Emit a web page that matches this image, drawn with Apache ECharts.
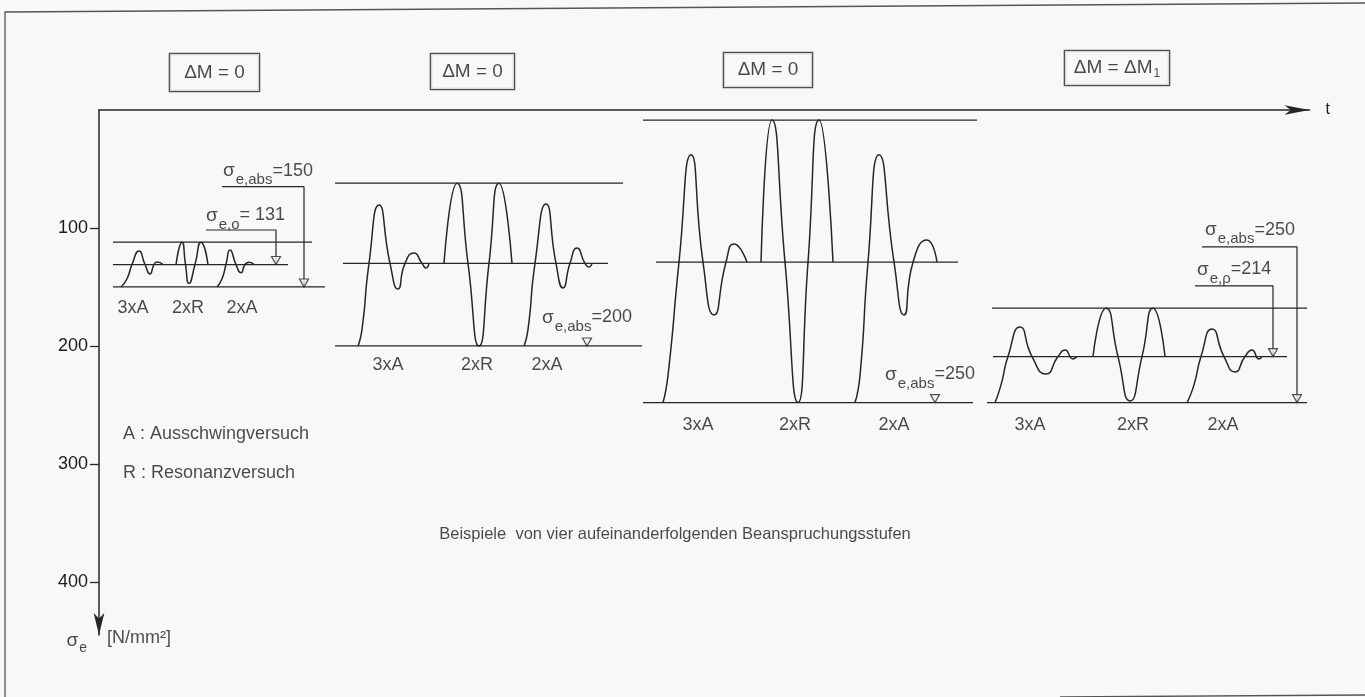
<!DOCTYPE html>
<html><head><meta charset="utf-8">
<script src="https://cdn.jsdelivr.net/npm/echarts@6/dist/echarts.min.js"></script>
<style>html,body{margin:0;padding:0;background:#f8f8f7}#c{width:1365px;height:697px}</style>
</head><body><div id="c"></div>
<script>
// ---------- data (t: time in arbitrary units, σ in N/mm²) ----------
const yTicks = [100, 200, 300, 400];
const yMax = 445;
const tMax = 121.05;

// waveforms [t, σe]
const g1_3xA = [[2.2,150],[2.8,143],[3.3,131],[4.0,119.5],[4.6,131],[5.1,139],[5.5,131],[5.8,128.8],[6.4,131]];
const g1_2xR = [[7.7,131],[8.3,112],[8.65,131],[9.0,147],[9.6,131],[10.2,112],[10.9,131]];
const g1_2xA = [[11.8,150],[12.3,143],[12.7,131],[13.1,118.6],[13.7,131],[14.2,138],[14.6,131],[15.0,129],[15.5,131]];

const g2_3xA = [[25.9,200],[26.3,186],[27.0,130],[28.0,80.5],[29.1,130],[29.9,151.7],[30.6,130],[31.5,121.2],[32.3,130],[32.7,133.9],[33.0,130]];
const g2_2xR = [[34.5,130],[35.8,62],[36.9,130],[38.0,200],[39.0,130],[40.0,62],[41.3,130]];
const g2_2xA = [[42.5,200],[42.9,186],[43.6,130],[44.7,79.7],[45.7,130],[46.4,150.8],[47.1,130],[47.8,116.9],[48.6,130],[49.0,133],[49.3,130]];

const g3_3xA = [[56.4,248],[56.9,225],[58.0,129],[59.2,38],[60.4,129],[61.5,173.7],[62.7,129],[63.5,113.6],[64.8,129]];
const g3_2xR = [[66.2,129],[67.3,8.5],[68.6,129],[69.9,248],[70.9,129],[72.0,8.5],[73.4,129]];
const g3_2xA = [[75.6,248],[76.1,225],[76.9,129],[78.0,38],[79.5,129],[80.5,173.7],[81.4,129],[82.8,110.2],[83.8,129]];

const g4_3xA = [[89.6,248],[90.2,233],[90.9,209],[92.1,184],[93.3,209],[94.7,223.7],[95.9,209],[96.6,203.4],[97.4,211],[97.8,209]];
const g4_2xR = [[99.4,209],[100.7,168],[101.9,209],[103.1,246.6],[104.3,209],[105.4,168],[106.6,209]];
const g4_2xA = [[108.8,248],[109.5,233],[110.2,209],[111.3,185.6],[112.5,209],[113.6,222],[114.6,209],[115.3,203.4],[116.0,211],[116.3,209]];

// horizontal level lines per group: [tStart, tEnd, σ] (upper, mean, σe,abs)
const g1Levels = [[1.4,21.3,112],[1.4,18.9,131],[1.4,22.6,150]];
const g2Levels = [[23.6,52.4,62],[24.4,50.9,130],[23.6,54.3,200]];
const g3Levels = [[54.4,87.8,8.5],[55.7,85.9,129],[54.4,87.4,248]];
const g4Levels = [[89.3,120.8,168],[89.4,118.8,209],[88.8,120.8,248]];

// leader lines to the markers [t, σ]
const leaderG1o   = [[10.7,101.7],[17.7,101.7],[17.7,131]];
const leaderG1abs = [[12.3,65],[20.5,65],[20.5,150]];
const leaderG4o   = [[109.6,149],[117.4,149],[117.4,209]];
const leaderG4abs = [[110.3,116],[119.8,116],[119.8,248]];

// ∇ markers [t, σ]
const markers = [[17.7,131],[20.5,150],[48.8,200],[83.6,248],[117.4,209],[119.8,248]];

// σ annotations: anchor [t, σ], subscript, value text
const sigmaAt  = [[12.4,49.2],[10.7,87.3],[44.3,173.7],[78.6,222],[110.6,99.2],[109.8,133]];
const sigmaSub = ['e,abs','e,o','e,abs','e,abs','e,abs','e,ρ'];
const sigmaVal = ['=150','= 131','=200','=250','=250','=214'];

// step labels
const stepText = ['3xA','2xR','2xA','3xA','2xR','2xA','3xA','2xR','2xA','3xA','2xR','2xA'];
const stepAt = [[3.4,167.8],[8.9,167.8],[14.3,167.8],[28.9,216],[37.8,216],[44.8,216],
                [59.9,267],[69.6,267],[79.5,267],[93.1,267],[103.4,267],[112.4,267]];

// panel titles
const titleMain = ['ΔM = 0','ΔM = 0','ΔM = 0','ΔM = ΔM'];
const titleSub  = ['','','','1'];
const titleAt   = [[11.55,-31.8],[37.35,-32.6],[66.9,-33.9],[101.8,-35.6]];

// legend / caption
const legendText = ['A : Ausschwingversuch','R : Resonanzversuch'];
const legendAt = [[2.4,274.6],[2.4,307.6]];
const captionText = 'Beispiele  von vier aufeinanderfolgenden Beanspruchungsstufen';
const captionAt = [57.6,360];
const yUnitAt = [[-1.2,447.5],[0.8,447.5]];

// ---------- style ----------
const F = '"Liberation Sans", Arial, sans-serif';
const INK = '#262626';
const TXT = '#1c1c1c';
const BG = '#f8f8f7';
const titleBox = [[91,39],[85,37],[90,36],[106,36]];

const chart = echarts.init(document.getElementById('c'));
const series = [];
const lineBase = {type:'line', symbol:'none', showSymbol:false, silent:true, animation:false, z:3};

[g1_3xA,g1_2xR,g1_2xA,g2_3xA,g2_2xR,g2_2xA,g3_3xA,g3_2xR,g3_2xA,g4_3xA,g4_2xR,g4_2xA].forEach(w=>{
  series.push(Object.assign({}, lineBase, {smooth:0.6, data:w, lineStyle:{color:INK,width:1.5}}));
});
[g1Levels,g2Levels,g3Levels,g4Levels].forEach(g=>g.forEach(l=>{
  series.push(Object.assign({}, lineBase, {data:[[l[0],l[2]],[l[1],l[2]]], lineStyle:{color:INK,width:1.3}}));
}));
[leaderG1o,leaderG1abs,leaderG4o,leaderG4abs].forEach(p=>{
  series.push(Object.assign({}, lineBase, {data:p, lineStyle:{color:INK,width:1.2}}));
});
series.push({type:'scatter', silent:true, animation:false, z:5, clip:false,
  symbol:'path://M0,0L10,0L5,9Z', symbolSize:[9,8], symbolOffset:[0,-4],
  itemStyle:{color:BG, borderColor:INK, borderWidth:1.2}, data:markers});

const txt = {fontFamily:F, color:TXT};
function textSeries(data, label){
  return {type:'scatter', silent:true, animation:false, clip:false, z:6, symbolSize:0,
    data, label:Object.assign({show:true, position:'inside', formatter:p=>p.name}, label)};
}
// sigma annotations
series.push(textSeries(sigmaAt.map((v,i)=>({value:v, name:'{s|σ}{sub|'+sigmaSub[i]+'}{n|'+sigmaVal[i]+'}'})), {
  align:'left', verticalAlign:'middle', offset:[0,3.5],
  rich:{
    s:Object.assign({fontSize:19, lineHeight:20, verticalAlign:'top'},txt),
    sub:Object.assign({fontSize:15, lineHeight:16, padding:[11,0,0,1], verticalAlign:'top'},txt),
    n:Object.assign({fontSize:18, lineHeight:20, verticalAlign:'top'},txt)
  }}));
// step labels
series.push(textSeries(stepAt.map((v,i)=>({value:v, name:stepText[i]})), Object.assign({fontSize:18, align:'center', verticalAlign:'middle'},txt)));
// legend
series.push(textSeries(legendAt.map((v,i)=>({value:v, name:legendText[i]})), Object.assign({fontSize:18, align:'left', verticalAlign:'middle'},txt)));
// caption
series.push(textSeries([{value:captionAt, name:captionText}], Object.assign({fontSize:16.5, align:'center', verticalAlign:'middle'},txt)));
// y unit
series.push(textSeries([{value:yUnitAt[0], name:'{s|σ}{sub|e}'}], {align:'right', verticalAlign:'middle', offset:[0,3],
  rich:{ s:Object.assign({fontSize:19, lineHeight:20, verticalAlign:'top'},txt),
         sub:Object.assign({fontSize:14, lineHeight:15, padding:[10,0,0,1], verticalAlign:'top'},txt)}}));
series.push(textSeries([{value:yUnitAt[1], name:'[N/mm²]'}], Object.assign({fontSize:18, align:'left', verticalAlign:'middle'},txt)));
// panel titles
titleAt.forEach((v,i)=>{
  const w = titleBox[i][0], h = titleBox[i][1];
  series.push(textSeries([{value:v, name: titleSub[i] ? '{m|'+titleMain[i]+'}{sub|'+titleSub[i]+'}' : '{m|'+titleMain[i]+'}'}], {
    align:'center', verticalAlign:'middle', width:w-2,
    backgroundColor:BG, borderColor:INK, borderWidth:1.3,
    rich:{ m:Object.assign({fontSize:19, lineHeight:h-2, verticalAlign:'middle'},txt),
           sub:Object.assign({fontSize:12, lineHeight:12, padding:[11,0,0,1], verticalAlign:'middle'},txt)}
  }));
});

chart.setOption({
  backgroundColor: BG,
  animation:false,
  grid:{left:99, right:55.5, top:110, bottom:62, containLabel:false},
  xAxis:{type:'value', position:'top', min:0, max:tMax,
    axisLine:{show:true, symbol:['none','arrow'], symbolSize:[7,25], lineStyle:{color:INK,width:1.5}},
    axisTick:{show:false}, axisLabel:{show:false}, splitLine:{show:false},
    name:'t', nameLocation:'end', nameGap:16, nameTextStyle:{fontFamily:F, fontSize:16, color:TXT, padding:[0,0,6,0]}},
  yAxis:{type:'value', inverse:true, min:0, max:yMax, interval:100,
    axisLine:{show:true, onZero:false, symbol:['arrow','none'], symbolSize:[8,22], lineStyle:{color:INK,width:1.5}},
    axisTick:{show:true, length:9, customValues:yTicks, lineStyle:{color:INK,width:1.3}},
    axisLabel:{show:true, customValues:yTicks, margin:11, fontFamily:F, fontSize:18, color:TXT},
    splitLine:{show:false}},
  graphic:[
    {type:'polyline', shape:{points:[[5,697],[5,12],[1365,3]]}, style:{stroke:'#555', lineWidth:1.3, fill:null}, silent:true},
    {type:'line', shape:{x1:1060,y1:697,x2:1365,y2:695}, style:{stroke:'#555', lineWidth:1.3}, silent:true}
  ],
  series
});
</script></body></html>
